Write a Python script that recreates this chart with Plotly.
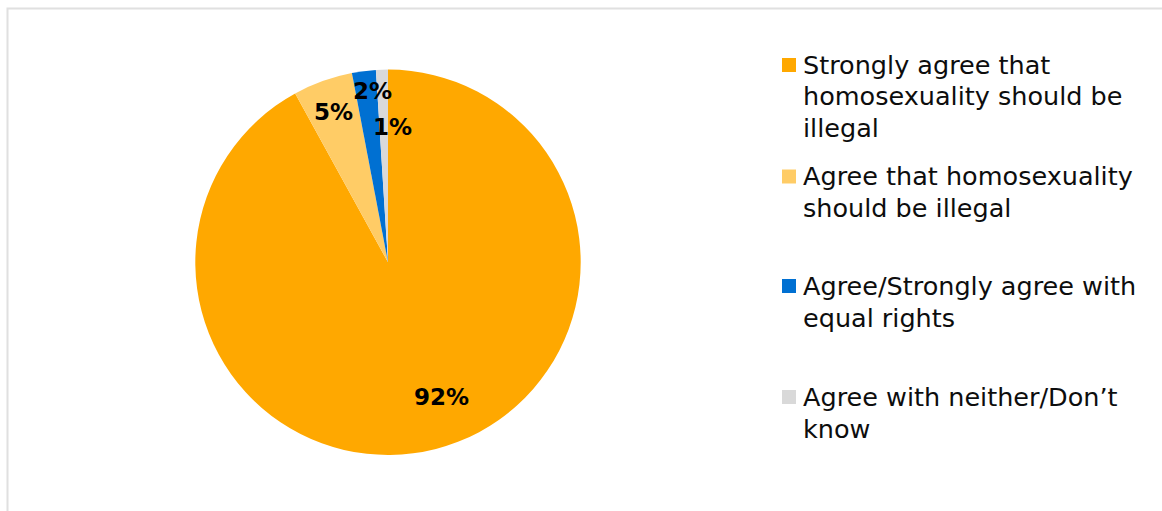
import math
import plotly.graph_objects as go

# Survey responses (share of respondents, %)
categories = [
    "Strongly agree that<br>homosexuality should be<br>illegal",
    "Agree that homosexuality<br>should be illegal",
    "Agree/Strongly agree with<br>equal rights",
    "Agree with neither/Don\u2019t<br>know",
]
values = [92, 5, 2, 1]
colors = ["#FFA800", "#FFCC66", "#0070D2", "#D9D9D9"]

W, H = 1162, 511
FONT = "DejaVu Sans"
LEGEND_SIZE = 25.5

# Pie placement in pixels
cx, cy, R = 388.0, 262.3, 192.7

fig = go.Figure(
    go.Pie(
        labels=[c.replace("<br>", " ") for c in categories],
        values=values,
        sort=False,
        direction="clockwise",
        rotation=0,
        marker=dict(colors=colors, line=dict(width=0)),
        textinfo="none",
        hoverinfo="label+percent",
        showlegend=False,
        domain=dict(x=[(cx - R) / W, (cx + R) / W],
                    y=[(H - cy - R) / H, (H - cy + R) / H]),
    )
)

# Percentage labels, placed along each slice's mid-angle
label_radius = [0.751, 0.831, 0.892, 0.705]
label_nudge_deg = [-7.4, 0.0, 1.9, 3.7]
total = sum(values)
annotations = []
cum = 0.0
for v, rf, nd in zip(values, label_radius, label_nudge_deg):
    mid = (cum + v / 2) / total * 360.0 + nd
    cum += v
    a = math.radians(mid)
    px = cx + rf * R * math.sin(a)
    py = cy - rf * R * math.cos(a)
    annotations.append(dict(
        x=px / W, y=1 - py / H, xref="paper", yref="paper",
        text=f"<b>{round(v / total * 100)}%</b>", showarrow=False,
        xanchor="center", yanchor="middle",
        font=dict(family=FONT, size=23, color="#000000"),
    ))

# Legend drawn as swatches plus one text line per row
legend_first_line = [65, 176.5, 286, 397]
line_h = 31.5
shapes = []
for cat, col, y0 in zip(categories, colors, legend_first_line):
    shapes.append(dict(
        type="rect", xref="paper", yref="paper",
        x0=782 / W, x1=796 / W, y0=1 - (y0 + 7) / H, y1=1 - (y0 - 7) / H,
        fillcolor=col, line=dict(width=0),
    ))
    for i, line in enumerate(cat.split("<br>")):
        annotations.append(dict(
            x=801 / W, y=1 - (y0 + i * line_h) / H, xref="paper", yref="paper",
            text=line, showarrow=False, align="left",
            xanchor="left", yanchor="middle",
            font=dict(family=FONT, size=LEGEND_SIZE, color="#0d0d0d"),
        ))

# Chart frame
shapes.append(dict(
    type="rect", xref="paper", yref="paper",
    x0=7.5 / W, x1=1.05, y0=-0.05, y1=1 - 8.5 / H,
    line=dict(color="#E0E0E0", width=2), fillcolor="rgba(0,0,0,0)",
    layer="below",
))

fig.update_layout(
    width=W, height=H,
    margin=dict(l=0, r=0, t=0, b=0),
    paper_bgcolor="white", plot_bgcolor="white",
    annotations=annotations, shapes=shapes,
    font=dict(family=FONT),
)

fig.write_html("out.html", config=dict(displayModeBar=False))
